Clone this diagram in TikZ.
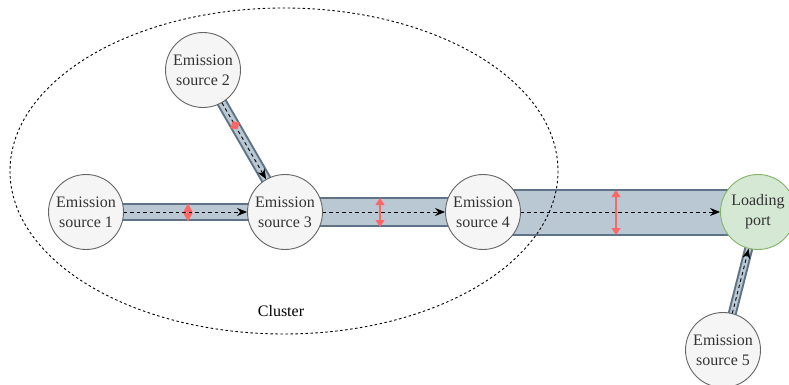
\documentclass[tikz,border=0pt]{standalone}
\usepackage{fontspec}
\setmainfont{Liberation Serif}
\usetikzlibrary{arrows.meta,backgrounds,calc}

\definecolor{srcfill}{HTML}{F5F5F5}
\definecolor{srcline}{HTML}{666666}
\definecolor{portfill}{HTML}{D5E8D4}
\definecolor{portline}{HTML}{82B366}
\definecolor{pipefill}{HTML}{BAC8D3}
\definecolor{pipeedge}{HTML}{5E7486}
\definecolor{widthmark}{HTML}{FF6666}

\tikzset{
  source/.style={circle, draw=srcline, fill=srcfill, line width=0.9pt, minimum size=75pt,
    inner sep=0pt, align=center, font=\fontsize{16}{20}\selectfont, text=black!80},
  port/.style={source, draw=portline, fill=portfill},
  pipe/.style={draw=pipeedge, line width=2pt, double=pipefill, double distance=#1},
  flow/.style={dash pattern=on 3.5pt off 3pt, line width=0.9pt, -{Stealth[length=10pt,width=8pt]}},
  widen/.style={widthmark, line width=1.2pt, {Triangle[length=#1,width=9pt]}-{Triangle[length=#1,width=9pt]}},
  cluster line/.style={dash pattern=on 2.5pt off 2.5pt, line width=0.9pt}
}

\begin{document}
\begin{tikzpicture}[x=1pt,y=-1pt]
\useasboundingbox (0,0) rectangle (789,385);
\draw [cluster line] (284,171) ellipse [x radius=274, y radius=163];
\node [font=\fontsize{16}{20}\selectfont] (cl) at (281,311) {Cluster};
\node [source] (s1) at (86,212)  {Emission\\source 1};
\node [source] (s2) at (203,70)  {Emission\\source 2};
\node [source] (s3) at (285,212) {Emission\\source 3};
\node [source] (s4) at (483,212) {Emission\\source 4};
\node [source] (s5) at (723,350) {Emission\\source 5};
\node [port]   (lp) at (758,212) {Loading\\port};
% pipes under the nodes
\begin{pgfonlayer}{background}
\draw [pipe=14pt] (s1.center) -- (s3.center);
\draw [pipe=7pt]  (s2.center) -- (s3.center);
\draw [pipe=26pt] (s3.center) -- (s4.center);
\draw [pipe=43pt] (s4.center) -- (lp.center);
\draw [pipe=5pt]  (s5.center) -- (lp.center);
\end{pgfonlayer}
\draw [flow] (s1) -- (s3);
\draw [flow] (s2) -- (s3);
\draw [flow] (s3) -- (s4);
\draw [flow] (s4) -- (lp);
\draw [flow] (s5) -- (lp);
% pipe widths
\draw [widen=8.5pt] (188,203.5) -- (188,221.5);
\draw [widen=7pt] (380,198) -- (380,227);
\draw [widen=7pt] (616,190) -- (616,235);
\coordinate (m2) at ($(s2.center)!0.39!(s3.center)$);
\draw [widen=5.5pt] ($(m2)!5.5pt!90:(s3.center)$) -- ($(m2)!5.5pt!-90:(s3.center)$);
\end{tikzpicture}
\end{document}
